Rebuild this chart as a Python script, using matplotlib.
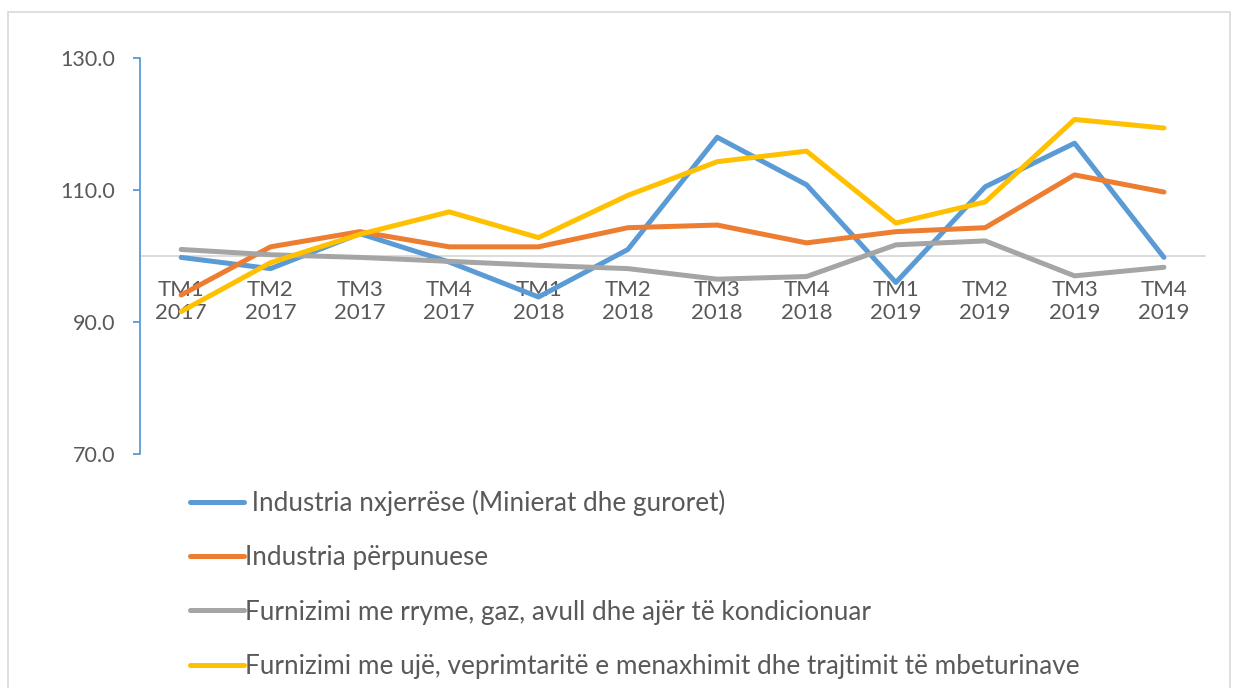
import matplotlib.pyplot as plt
from matplotlib.patches import Rectangle

plt.rcParams['font.family'] = ['Lato', 'DejaVu Sans']

quarters = ["TM1\n2017", "TM2\n2017", "TM3\n2017", "TM4\n2017",
            "TM1\n2018", "TM2\n2018", "TM3\n2018", "TM4\n2018",
            "TM1\n2019", "TM2\n2019", "TM3\n2019", "TM4\n2019"]

nxjerrese = [99.8, 98.1, 103.4, 99.1, 93.8, 101.0, 118.0, 110.8, 96.0, 110.5, 117.1, 99.8]
perpunuese = [94.1, 101.4, 103.7, 101.4, 101.4, 104.3, 104.7, 102.0, 103.7, 104.3, 112.3, 109.7]
rryme_gaz = [101.0, 100.2, 99.8, 99.2, 98.6, 98.1, 96.5, 96.9, 101.7, 102.3, 97.0, 98.3]
uje_mbeturina = [91.6, 99.0, 103.3, 106.7, 102.8, 109.2, 114.3, 115.9, 105.0, 108.2, 120.7, 119.4]

labels = [" Industria nxjerrëse (Minierat dhe guroret)",
          "Industria përpunuese",
          "Furnizimi me rryme, gaz, avull dhe ajër të kondicionuar",
          "Furnizimi me ujë, veprimtaritë e menaxhimit dhe trajtimit të mbeturinave"]
colors = ["#5B9BD5", "#ED7D31", "#A5A5A5", "#FFC000"]
txt = "#595959"

fig = plt.figure(figsize=(12.34, 6.88), dpi=100)
ax = fig.add_axes([0.1135, 0.340, 0.863, 0.5756])

x = range(len(quarters))
for vals, lab, c in zip([nxjerrese, perpunuese, rryme_gaz, uje_mbeturina], labels, colors):
    ax.plot(x, vals, color=c, lw=3.6, label=lab, solid_capstyle='round')

ax.set_ylim(70, 130)
ax.set_yticks([70, 90, 110, 130])
ax.set_yticklabels(["70.0", "90.0", "110.0", "130.0"])
ax.set_xlim(-0.46, 11.46)
ax.set_xticks(list(x))
ax.set_xticklabels(quarters, linespacing=1.45)

ax.spines['top'].set_visible(False)
ax.spines['right'].set_visible(False)
ax.spines['left'].set_color("#5B9BD5")
ax.spines['left'].set_linewidth(1.3)
ax.spines['bottom'].set_position(('data', 100))
ax.spines['bottom'].set_color("#D9D9D9")
ax.spines['bottom'].set_linewidth(1.3)
ax.spines['bottom'].set_zorder(0)

ax.tick_params(axis='y', colors="#5B9BD5", labelcolor=txt, labelsize=15.5,
               length=5, width=1.3, pad=13)
ax.tick_params(axis='x', length=0, labelcolor=txt, labelsize=16, pad=17)

fig.legend(loc='upper left', bbox_to_anchor=(0.1455, 0.303), frameon=False,
           fontsize=18.8, labelcolor=txt, handlelength=2.05, handletextpad=0.05,
           labelspacing=1.12, borderaxespad=0)

fig.patches.append(Rectangle((8 / 1234, -0.01), 1222 / 1234, (676 / 688) + 0.01,
                             transform=fig.transFigure, fill=False,
                             edgecolor="#D9D9D9", lw=1.2))

fig.savefig("out.png", dpi=100)
